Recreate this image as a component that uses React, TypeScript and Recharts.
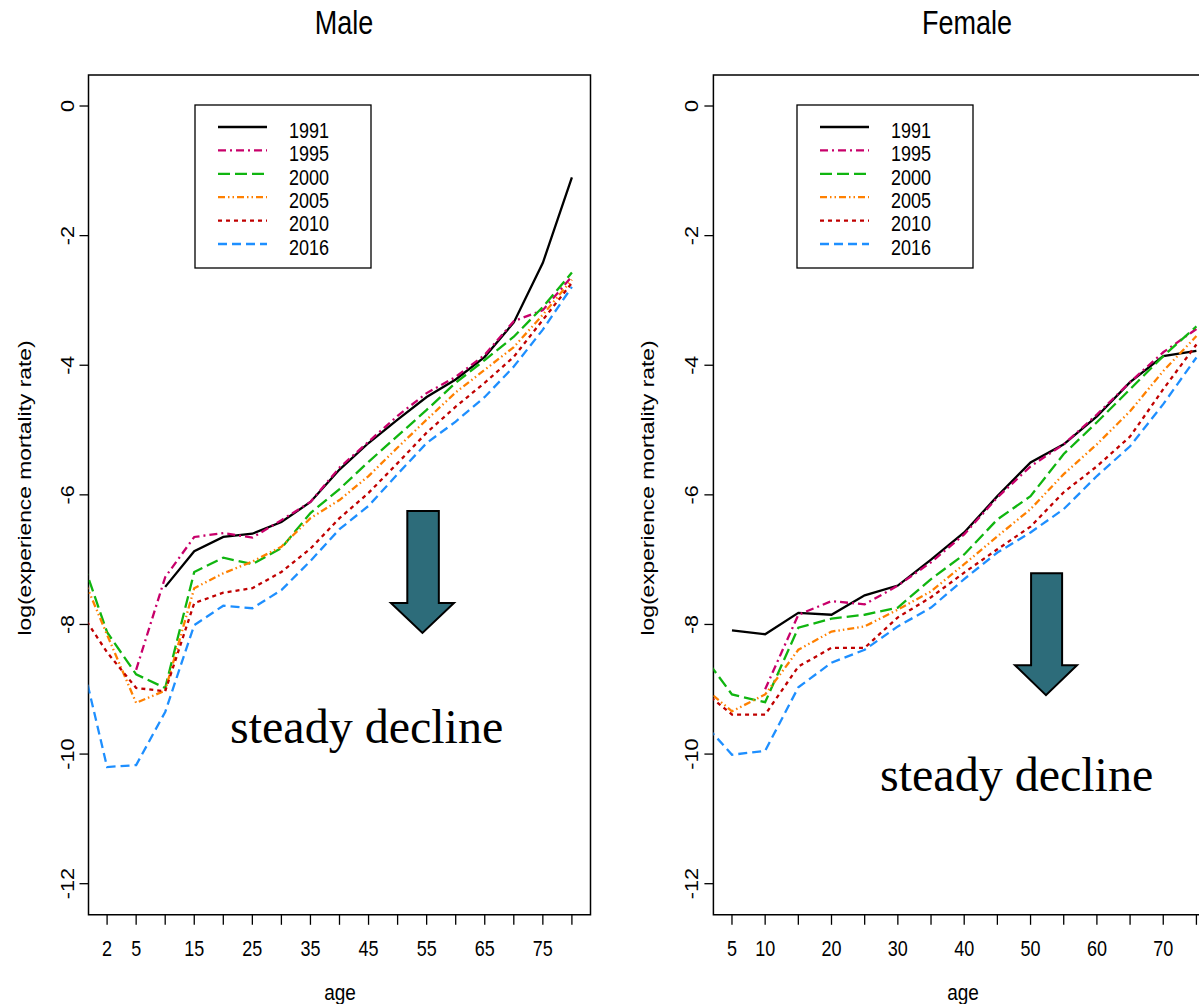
import React from 'react';
import { LineChart, Line, XAxis, YAxis, ReferenceArea } from 'recharts';

const years = ['1991', '1995', '2000', '2005', '2010', '2016'];
const colors = ['#000000', '#C8006A', '#10B510', '#FF8000', '#C00000', '#1E8FFF'];
const dashes = ['0', '8 4 2 4', '12 5', '7 3 1.5 3 1.5 3', '4 4', '9 5'];

// Male: age categories (index 0 = age 0, drawn clipped at panel edge)
const maleAges = [0, 2, 5, 10, 15, 20, 25, 30, 35, 40, 45, 50, 55, 60, 65, 70, 75, 80];
const maleShownLabels = [2, 5, 15, 25, 35, 45, 55, 65, 75];
const male1991 = [null, null, null, -7.42, -6.87, -6.65, -6.60, -6.42, -6.11, -5.61, -5.20, -4.84, -4.49, -4.22, -3.87, -3.34, -2.42, -1.10];
const male1995 = [null, null, -8.70, -7.27, -6.65, -6.59, -6.66, -6.39, -6.11, -5.58, -5.18, -4.78, -4.43, -4.18, -3.84, -3.32, -3.15, -2.63];
const male2000 = [-6.82, -8.12, -8.77, -8.98, -7.19, -6.97, -7.07, -6.82, -6.28, -5.91, -5.49, -5.09, -4.69, -4.27, -3.92, -3.56, -3.10, -2.57];
const male2005 = [-7.09, -8.16, -9.21, -9.02, -7.44, -7.21, -7.03, -6.80, -6.36, -6.08, -5.71, -5.27, -4.84, -4.42, -4.07, -3.72, -3.22, -2.68];
const male2010 = [-7.75, -8.43, -8.98, -9.03, -7.67, -7.51, -7.44, -7.19, -6.83, -6.36, -5.97, -5.51, -5.04, -4.64, -4.27, -3.87, -3.30, -2.73];
const male2016 = [-8.30, -10.20, -10.17, -9.35, -8.01, -7.71, -7.75, -7.47, -7.02, -6.53, -6.17, -5.68, -5.20, -4.87, -4.49, -4.02, -3.45, -2.79];

// Female
const femaleAges = [0, 5, 10, 15, 20, 25, 30, 35, 40, 45, 50, 55, 60, 65, 70, 75];
const femaleShownLabels = [5, 10, 20, 30, 40, 50, 60, 70];
const female1991 = [null, -8.09, -8.15, -7.82, -7.85, -7.55, -7.40, -7.00, -6.58, -6.02, -5.50, -5.22, -4.79, -4.26, -3.86, -3.78];
const female1995 = [null, null, -9.00, -7.85, -7.64, -7.69, -7.40, -7.04, -6.61, -6.04, -5.56, -5.22, -4.76, -4.26, -3.80, -3.44];
const female2000 = [-8.39, -9.08, -9.20, -8.05, -7.91, -7.85, -7.74, -7.30, -6.92, -6.38, -6.02, -5.37, -4.88, -4.37, -3.86, -3.40];
const female2005 = [-8.91, -9.34, -9.08, -8.39, -8.11, -8.03, -7.77, -7.49, -7.07, -6.64, -6.22, -5.68, -5.22, -4.71, -4.09, -3.55];
const female2010 = [-8.97, -9.39, -9.39, -8.65, -8.36, -8.36, -7.89, -7.58, -7.20, -6.84, -6.49, -5.96, -5.56, -5.10, -4.37, -3.68];
const female2016 = [-9.44, -10.01, -9.95, -8.97, -8.59, -8.39, -8.03, -7.74, -7.30, -6.89, -6.58, -6.22, -5.71, -5.25, -4.60, -3.88];

const yTicks = [-12, -10, -8, -6, -4, -2, 0];
const yDomain: [number, number] = [-12.48, 0.48];

const maleSeries = [male1991, male1995, male2000, male2005, male2010, male2016];
const femaleSeries = [female1991, female1995, female2000, female2005, female2010, female2016];

const buildRows = (ages: number[], series: (number | null)[][]) =>
  ages.map((age, i) => {
    const row: any = { i, age };
    years.forEach((yr, k) => {
      row['y' + yr] = series[k][i];
    });
    return row;
  });

const maleRows = buildRows(maleAges, maleSeries);
const femaleRows = buildRows(femaleAges, femaleSeries);

const SANS = '"Liberation Sans", Arial, sans-serif';
const SERIF = '"Liberation Serif", "Times New Roman", serif';
const STRETCH = 1.2; // the original figure's text is stretched vertically

// horizontal text, stretched vertically about its baseline
const HText = ({ x, y, size, anchor = 'middle', children }: any) => (
  <g transform={`translate(${x} ${y}) scale(1 ${STRETCH})`}>
    <text x={0} y={0} textAnchor={anchor} fontFamily={SANS} fontSize={size} fill="#000">
      {children}
    </text>
  </g>
);

// vertical text (reads bottom to top), stretched along its length
const VText = ({ x, y, size, children }: any) => (
  <g transform={`translate(${x} ${y}) rotate(-90) scale(${STRETCH} 1)`}>
    <text x={0} y={0} textAnchor="middle" fontFamily={SANS} fontSize={size} fill="#000">
      {children}
    </text>
  </g>
);

const ArrowShape = (props: any) => {
  const { x, y, width: w, height: h } = props;
  const pts = [
    [x + 0.26 * w, y],
    [x + 0.76 * w, y],
    [x + 0.76 * w, y + 0.754 * h],
    [x + w, y + 0.754 * h],
    [x + 0.5 * w, y + h],
    [x, y + 0.754 * h],
    [x + 0.26 * w, y + 0.754 * h],
  ]
    .map((p) => p.join(','))
    .join(' ');
  return <polygon points={pts} fill="#2D6C7A" stroke="#000" strokeWidth={2} strokeLinejoin="miter" />;
};

const makeXTick = (ages: number[], shown: number[]) => (props: any) => {
  const { x, y, payload } = props;
  const age = ages[payload.value];
  if (!shown.includes(age)) return <g />;
  return (
    <HText x={x} y={y + 31} size={18}>
      {age}
    </HText>
  );
};

const YTick = (props: any) => {
  const { x, y, payload } = props;
  return (
    <VText x={x - 6} y={y} size={18}>
      {payload.value}
    </VText>
  );
};

type PanelProps = {
  rows: any[];
  ages: number[];
  shown: number[];
  xDomain: [number, number];
  arrow: { x1: number; x2: number; y1: number; y2: number };
  width: number;
  margin: { top: number; right: number; bottom: number; left: number };
};

const Panel = ({ rows, ages, shown, xDomain, arrow, width, margin }: PanelProps) => {
  const ticks = ages.slice(1).map((_, k) => k + 1);
  return (
    <LineChart width={width} height={1004} data={rows} margin={margin}>
      <XAxis
        dataKey="i"
        type="number"
        domain={xDomain}
        allowDataOverflow
        ticks={ticks}
        interval={0}
        tickSize={10}
        tickMargin={0}
        axisLine={false}
        tickLine={{ stroke: '#000', strokeWidth: 1.3 }}
        tick={makeXTick(ages, shown)}
        height={60}
      />
      <YAxis
        type="number"
        domain={yDomain}
        allowDataOverflow
        ticks={yTicks}
        interval={0}
        tickSize={9}
        tickMargin={0}
        axisLine={false}
        tickLine={{ stroke: '#000', strokeWidth: 1.3 }}
        tick={<YTick />}
        width={60}
      />
      {years.map((yr, k) => (
        <Line
          key={yr}
          type="linear"
          dataKey={'y' + yr}
          stroke={colors[k]}
          strokeWidth={2.3}
          strokeDasharray={dashes[k] === '0' ? undefined : dashes[k]}
          dot={false}
          activeDot={false}
          isAnimationActive={false}
          connectNulls={false}
        />
      ))}
      <ReferenceArea
        x1={arrow.x1}
        x2={arrow.x2}
        y1={arrow.y1}
        y2={arrow.y2}
        ifOverflow="visible"
        shape={(p: any) => <ArrowShape {...p} />}
      />
      <ReferenceArea
        x1={xDomain[0]}
        x2={xDomain[1]}
        y1={yDomain[0]}
        y2={yDomain[1]}
        ifOverflow="visible"
        fill="none"
        fillOpacity={0}
        stroke="#000"
        strokeWidth={1.5}
      />
    </LineChart>
  );
};

const Legend = ({ x, y }: { x: number; y: number }) => (
  <g>
    <rect x={x} y={y} width={176} height={163} fill="#fff" stroke="#000" strokeWidth={1.3} />
    {years.map((yr, k) => {
      const cy = y + 25 + k * 23.4;
      return (
        <g key={yr}>
          <line
            x1={x + 23}
            x2={x + 72}
            y1={cy - 3}
            y2={cy - 3}
            stroke={colors[k]}
            strokeWidth={2.3}
            strokeDasharray={dashes[k] === '0' ? undefined : dashes[k]}
          />
          <HText x={x + 94} y={cy + 7.8} size={18} anchor="start">
            {yr}
          </HText>
        </g>
      );
    })}
  </g>
);

export default function App() {
  return (
    <div
      style={{
        position: 'fixed',
        left: 0,
        top: 0,
        width: 1199,
        height: 1004,
        overflow: 'hidden',
        background: '#fff',
      }}
    >
      <div style={{ position: 'absolute', left: 0, top: 0 }}>
        <Panel
          rows={maleRows}
          ages={maleAges}
          shown={maleShownLabels}
          xDomain={[0.36, 17.64]}
          arrow={{ x1: 10.77, x2: 12.94, y1: -8.13, y2: -6.25 }}
          width={600}
          margin={{ top: 74.9, right: 9.5, bottom: 29.2, left: 28.5 }}
        />
      </div>
      <div style={{ position: 'absolute', left: 600, top: 0 }}>
        <Panel
          rows={femaleRows}
          ages={femaleAges}
          shown={femaleShownLabels}
          xDomain={[0.44, 15.56]}
          arrow={{ x1: 9.53, x2: 11.4, y1: -9.09, y2: -7.21 }}
          width={640}
          margin={{ top: 74.9, right: 25, bottom: 29.2, left: 53.4 }}
        />
      </div>
      <svg
        width={1199}
        height={1004}
        style={{ position: 'absolute', left: 0, top: 0, pointerEvents: 'none' }}
      >
        <HText x={344} y={34} size={27}>
          Male
        </HText>
        <HText x={967} y={34} size={27}>
          Female
        </HText>
        <HText x={340} y={1000} size={19}>
          age
        </HText>
        <HText x={963} y={1000} size={19}>
          age
        </HText>
        <VText x={31} y={488} size={19}>
          log(experience mortality rate)
        </VText>
        <VText x={654} y={488} size={19}>
          log(experience mortality rate)
        </VText>
        <Legend x={195} y={105} />
        <Legend x={797} y={105} />
        <text x={230} y={743} fontFamily={SERIF} fontSize={48} fill="#000">
          steady decline
        </text>
        <text x={880} y={791} fontFamily={SERIF} fontSize={48} fill="#000">
          steady decline
        </text>
      </svg>
    </div>
  );
}
